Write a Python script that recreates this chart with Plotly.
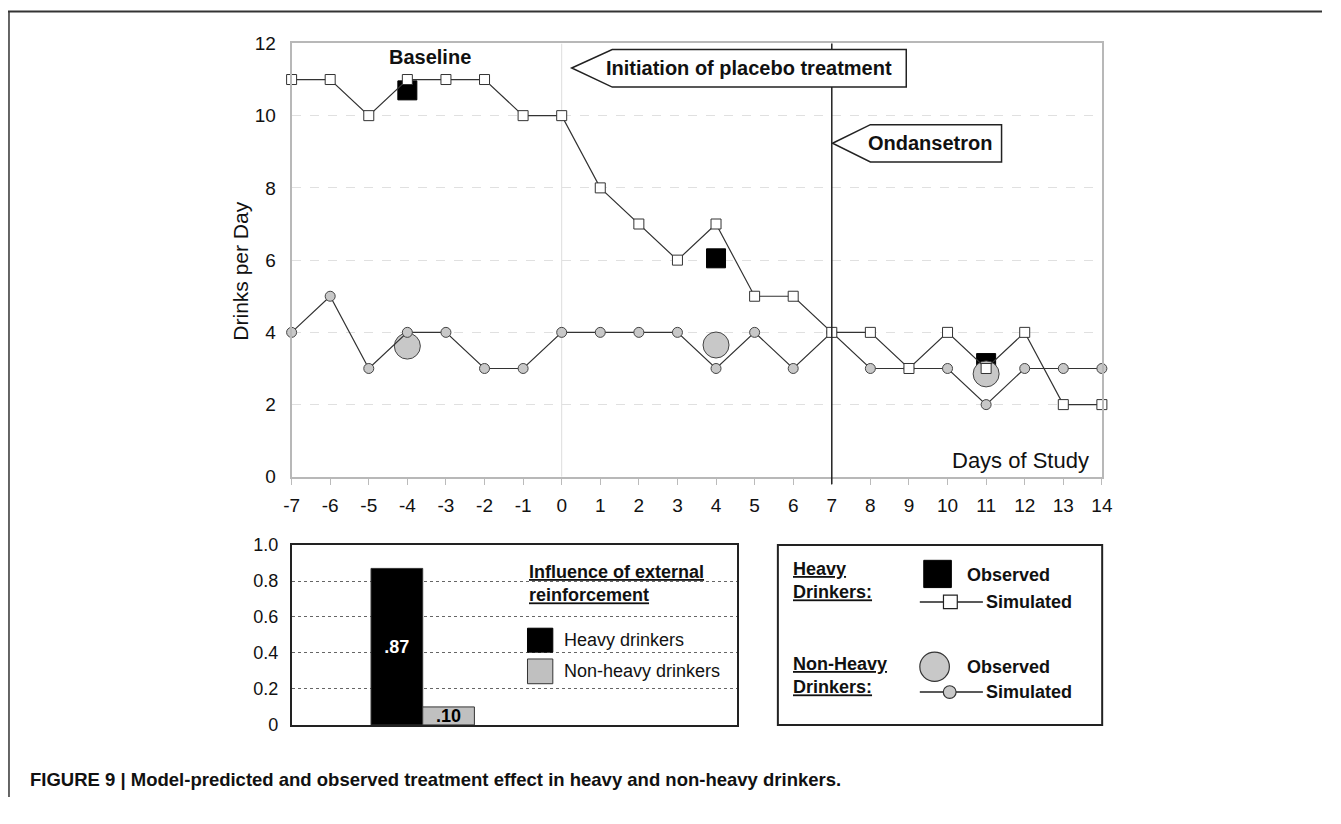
import plotly.graph_objects as go

# page is 1341x824 with the browser's default 8px body margin; the figure
# starts at that margin, and every layout position below is given in page
# pixels
OFF = 8
W, H = 1333, 808


def px(x):
    return (x - OFF) / W


def py(y):
    return 1 - (y - OFF) / H


FONT = "Arial, Liberation Sans, sans-serif"

# ---- daily drinking data -------------------------------------------------
days = list(range(-7, 15))
heavy_simulated = [11, 11, 10, 11, 11, 11, 10, 10, 8, 7, 6, 7, 5, 5, 4, 4, 3, 4, 3, 4, 2, 2]
nonheavy_simulated = [4, 5, 3, 4, 4, 3, 3, 4, 4, 4, 4, 3, 4, 3, 4, 3, 3, 3, 2, 3, 3, 3]

observed_days = [-4, 4, 11]
heavy_observed = [10.7, 6.05, 3.15]
nonheavy_observed = [3.62, 3.65, 2.85]

# ---- influence of external reinforcement ---------------------------------
groups = ["Heavy drinkers", "Non-heavy drinkers"]
influence = [0.87, 0.10]
influence_labels = [".87", ".10"]

x_ticks = list(range(-7, 15))
x_ticktext = [str(d) for d in x_ticks]
y_ticks = [0, 2, 4, 6, 8, 10, 12]
bar_ticks = [0, 0.2, 0.4, 0.6, 0.8, 1.0]
bar_ticktext = ["0", "0.2", "0.4", "0.6", "0.8", "1.0"]

fig = go.Figure()

# observed heavy drinkers (black squares)
fig.add_trace(go.Scatter(
    x=observed_days, y=heavy_observed, mode="markers",
    marker=dict(symbol="square", size=19, color="black",
                line=dict(color="black", width=1)),
    cliponaxis=False, showlegend=False, xaxis="x", yaxis="y"))

# observed non-heavy drinkers (large grey circles)
fig.add_trace(go.Scatter(
    x=observed_days, y=nonheavy_observed, mode="markers",
    marker=dict(symbol="circle", size=26, color="#c8c8c8",
                line=dict(color="#444444", width=1)),
    cliponaxis=False, showlegend=False, xaxis="x", yaxis="y"))

# simulated non-heavy drinkers
fig.add_trace(go.Scatter(
    x=days, y=nonheavy_simulated, mode="lines+markers",
    line=dict(color="#333333", width=1.2),
    marker=dict(symbol="circle", size=10, color="#c8c8c8",
                line=dict(color="#444444", width=1)),
    cliponaxis=False, showlegend=False, xaxis="x", yaxis="y"))

# simulated heavy drinkers
fig.add_trace(go.Scatter(
    x=days, y=heavy_simulated, mode="lines+markers",
    line=dict(color="#333333", width=1.2),
    marker=dict(symbol="square", size=10, color="white",
                line=dict(color="#333333", width=1)),
    cliponaxis=False, showlegend=False, xaxis="x", yaxis="y"))

# bar panel
bar_colors = ["black", "#c0c0c0"]
text_colors = ["white", "black"]
for name, val, lab, col, tcol in zip(groups, influence, influence_labels, bar_colors, text_colors):
    fig.add_trace(go.Bar(
        x=[0], y=[val], name=name, text=[lab], textposition="inside",
        insidetextanchor="middle", constraintext="none",
        textfont=dict(family=FONT, size=18, color=tcol, weight="bold"),
        marker=dict(color=col, line=dict(color="#333333", width=1)),
        showlegend=False, xaxis="x2", yaxis="y2"))

shapes = []
annotations = []


def note(x, y, text, size=18, xref="paper", yref="paper", xanchor="center", **kw):
    annotations.append(dict(xref=xref, yref=yref, x=x, y=y, text=text,
                            showarrow=False, xanchor=xanchor, yanchor="middle",
                            font=dict(family=FONT, size=size, color="#111111"), **kw))


# light vertical gridline at day 0
shapes.append(dict(type="line", xref="x", yref="y", x0=0, x1=0, y0=0, y1=12,
                   line=dict(color="#dddddd", width=1), layer="below"))
# vertical marker at day 7 (start of ondansetron)
shapes.append(dict(type="line", xref="x", yref="paper", x0=7, x1=7,
                   y0=py(495), y1=py(42.3), line=dict(color="#222222", width=1.5)))

# callout boxes
shapes.append(dict(type="path", xref="x", yref="y",
                   path="M 0.26,11.32 L 1.31,11.83 L 8.93,11.83 L 8.93,10.79 L 1.31,10.79 Z",
                   fillcolor="white", line=dict(color="#222222", width=1.5)))
shapes.append(dict(type="path", xref="x", yref="y",
                   path="M 7.02,9.235 L 8.0,9.75 L 11.4,9.75 L 11.4,8.72 L 8.0,8.72 Z",
                   fillcolor="white", line=dict(color="#222222", width=1.5)))

note(4.86, 11.31, "<b>Initiation of placebo treatment</b>", size=20, xref="x", yref="y")
note(9.55, 9.235, "<b>Ondansetron</b>", size=20, xref="x", yref="y")
note(-3.42, 11.61, "<b>Baseline</b>", size=20, xref="x", yref="y")
note(px(1107), py(471), "Days of Study", size=22, xanchor="right")
note(px(243), py(276), "Drinks per Day", size=21, textangle=-90)

# legend inside bar panel
note(px(535), py(596.5),
     "<b><u>Influence of external</u></b><br><b><u>reinforcement</u></b>",
     xanchor="left", align="left")
shapes.append(dict(type="rect", xref="paper", yref="paper",
                   x0=px(535), x1=px(560.7), y0=py(667.3), y1=py(642.7),
                   fillcolor="black", line=dict(color="black", width=1)))
shapes.append(dict(type="rect", xref="paper", yref="paper",
                   x0=px(535), x1=px(560.7), y0=py(699.7), y1=py(674.3),
                   fillcolor="#c0c0c0", line=dict(color="#333333", width=1)))
note(px(570), py(655), "Heavy drinkers", xanchor="left")
note(px(570), py(687), "Non-heavy drinkers", xanchor="left")

# key box for the line chart
shapes.append(dict(type="rect", xref="paper", yref="paper",
                   x0=px(789), x1=px(1118), y0=py(742), y1=py(557.3),
                   fillcolor="rgba(0,0,0,0)", line=dict(color="#222222", width=2)))
note(px(802), py(594), "<b><u>Heavy</u></b><br><b><u>Drinkers:</u></b>",
     xanchor="left", align="left")
note(px(802), py(691), "<b><u>Non-Heavy</u></b><br><b><u>Drinkers:</u></b>",
     xanchor="left", align="left")
shapes.append(dict(type="rect", xref="paper", yref="paper",
                   x0=px(937), x1=px(965), y0=py(601), y1=py(573),
                   fillcolor="black", line=dict(color="black", width=1)))
shapes.append(dict(type="line", xref="paper", yref="paper",
                   x0=px(933), x1=px(997), y0=py(615.7), y1=py(615.7),
                   line=dict(color="#222222", width=1.5)))
shapes.append(dict(type="rect", xref="paper", yref="paper",
                   x0=px(957), x1=px(971), y0=py(622.7), y1=py(608.7),
                   fillcolor="white", line=dict(color="#222222", width=1.2)))
shapes.append(dict(type="circle", xref="paper", yref="paper",
                   x0=px(933), x1=px(963), y0=py(697.3), y1=py(667.3),
                   fillcolor="#c8c8c8", line=dict(color="#333333", width=1.2)))
shapes.append(dict(type="line", xref="paper", yref="paper",
                   x0=px(933), x1=px(997), y0=py(708.3), y1=py(708.3),
                   line=dict(color="#222222", width=1.5)))
shapes.append(dict(type="circle", xref="paper", yref="paper",
                   x0=px(956.8), x1=px(969.8), y0=py(714.8), y1=py(701.8),
                   fillcolor="#c8c8c8", line=dict(color="#333333", width=1.2)))
for yy in (588, 683):
    note(px(979), py(yy), "<b>Observed</b>", xanchor="left")
for yy in (615.5, 708.3):
    note(px(998), py(yy), "<b>Simulated</b>", xanchor="left")

# page frame (top rule and left rule)
shapes.append(dict(type="line", xref="paper", yref="paper",
                   x0=px(8), x1=1, y0=py(9.5), y1=py(9.5),
                   line=dict(color="#333333", width=2)))
shapes.append(dict(type="line", xref="paper", yref="paper",
                   x0=px(9), x1=px(9), y0=0, y1=py(9.5),
                   line=dict(color="#333333", width=1.5)))

# caption
note(px(28), py(798),
     "<b>FIGURE 9 | Model-predicted and observed treatment effect in heavy and non-heavy drinkers.</b>",
     size=18.5, xanchor="left")

fig.update_layout(
    width=W, height=H,
    margin=dict(l=0, r=0, t=0, b=0),
    paper_bgcolor="white", plot_bgcolor="white",
    barmode="group", bargap=0.768, bargroupgap=0,
    shapes=shapes, annotations=annotations,
    xaxis=dict(domain=[px(295.7), px(1117.7)], range=[-7, 14],
               tickvals=x_ticks, ticktext=x_ticktext,
               ticks="outside", ticklen=6, tickcolor="#bbbbbb",
               ticklabelstandoff=4,
               showgrid=False, zeroline=False, showline=True, mirror=True,
               linecolor="#b8b8b8", linewidth=2,
               tickfont=dict(family=FONT, size=19, color="#111111")),
    yaxis=dict(domain=[py(487.3), py(42.3)], range=[0, 12],
               tickvals=y_ticks, showgrid=True, gridcolor="#e0e0e0", griddash="dash",
               gridwidth=1, zeroline=False, showline=True, mirror=True,
               linecolor="#b8b8b8", linewidth=2, ticklabelstandoff=10,
               tickfont=dict(family=FONT, size=19, color="#111111")),
    xaxis2=dict(domain=[px(296), px(748)], range=[-0.2936, 0.7064],
                anchor="y2", showticklabels=False, ticks="", showgrid=False,
                zeroline=False, showline=True, mirror=True,
                linecolor="#222222", linewidth=2),
    yaxis2=dict(domain=[py(742), py(557.3)], range=[0, 1], anchor="x2",
                tickvals=bar_ticks, ticktext=bar_ticktext,
                showgrid=True, gridcolor="#666666", griddash="dot", gridwidth=1,
                zeroline=False, showline=True, mirror=True,
                linecolor="#222222", linewidth=2, ticklabelstandoff=8,
                tickfont=dict(family=FONT, size=18, color="#111111")),
)

fig.write_html("out.html")
